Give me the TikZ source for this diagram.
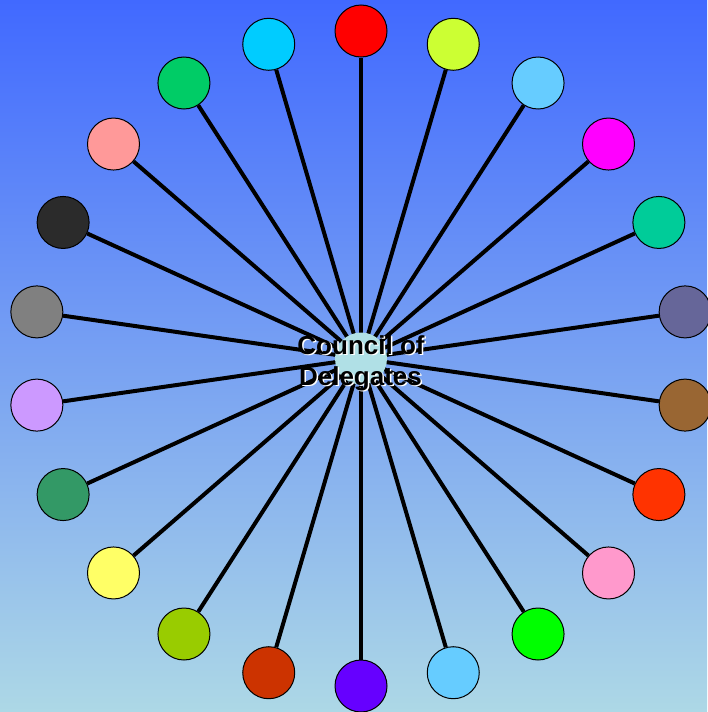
\documentclass[tikz,border=0pt]{standalone}
\usepackage{fontspec}
\setmainfont{Liberation Sans}
\usetikzlibrary{calc}
\definecolor{bgtop}{RGB}{65,105,255}
\definecolor{bgbot}{RGB}{173,216,230}
\definecolor{hub}{RGB}{176,224,230}
\begin{document}
\begin{tikzpicture}[x=1pt,y=-1pt,
  spoke/.style={line width=4pt},
  member/.style={circle,draw=black,line width=1pt,minimum size=52pt,inner sep=0pt},
  hubnode/.style={circle,fill=hub,minimum size=52pt,inner sep=0pt},
  lbl/.style={font=\fontsize{26}{31}\selectfont\bfseries,inner sep=0pt,anchor=base}]
\shade[top color=bgtop,bottom color=bgbot] (0,0) rectangle (707,712);
\useasboundingbox (0,0) rectangle (707,712);
\coordinate (c) at (361,358.5);
\foreach \col [count=\i from 0] in {FF0000,CCFF33,66CCFF,FF00FF,00CC99,666699,996633,FF3300,FF99CC,00FF00,66CCFF,6600FF,CC3300,99CC00,FFFF66,339966,CC99FF,808080,2B2B2B,FF9999,00CC66,00CCFF}{
  \definecolor{mc\i}{HTML}{\col}
  \pgfmathsetmacro{\ang}{-90+\i*360/22}
  \node[member,fill=mc\i] (m\i) at ($(c)+(\ang:327.5)$) {};
}
\foreach \i in {0,...,21}{
  \draw[spoke] (c) -- (m\i);
}
\node[hubnode] (hub) at (c) {};
\node[lbl,text=white] (t1s) at (362.5,355.5) {Council of};
\node[lbl,text=white] (t2s) at (362,386.5) {Delegates};
\node[lbl] (t1) at (361,354) {Council of};
\node[lbl] (t2) at (360.5,385) {Delegates};
\end{tikzpicture}
\end{document}
